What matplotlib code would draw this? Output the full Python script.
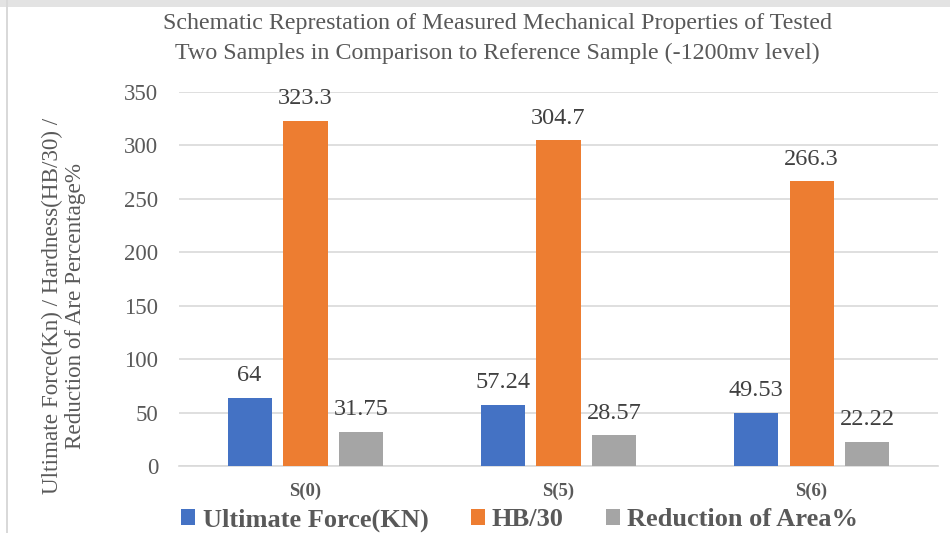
import matplotlib.pyplot as plt
import numpy as np
from matplotlib.patches import Rectangle

plt.rcParams['font.family'] = ['Liberation Serif', 'DejaVu Serif']

# Measured values per sample
samples = ['S(0)', 'S(5)', 'S(6)']
ultimate_force = [64, 57.24, 49.53]
hardness = [323.3, 304.7, 266.3]
reduction_area = [31.75, 28.57, 22.22]
series_names = ['Ultimate Force(KN)', 'HB/30', 'Reduction of Area%']
series_colors = ['#4472C4', '#ED7D31', '#A5A5A5']
y_ticks = [0, 50, 100, 150, 200, 250, 300, 350]

fig = plt.figure(figsize=(9.5, 5.33), dpi=100)
ax = fig.add_axes([0.1884, 0.1257, 0.799, 0.7017])

x = np.arange(len(samples))
bar_w = 0.174
step = 0.221
all_series = [ultimate_force, hardness, reduction_area]
for i, (vals, name, col) in enumerate(zip(all_series, series_names, series_colors)):
    pos = x + (i - 1) * step
    ax.bar(pos, vals, width=bar_w, color=col, label=name, zorder=3)
    for px, v in zip(pos, vals):
        ax.annotate(f'{v:g}', (px, v), xytext=(0, 8.5), textcoords='offset points',
                    ha='center', va='bottom', fontsize=17.5, color='#404040')

ax.set_xlim(-0.5, 2.5)
ax.set_ylim(0, 350)
ax.set_yticks(y_ticks)
ax.set_xticks(x)
ax.set_xticklabels(samples, fontweight='bold', fontsize=13.5, color='#595959')
ax.tick_params(axis='y', length=0, pad=15, labelsize=16.5, labelcolor='#595959')
ax.tick_params(axis='x', length=0, pad=12)
ax.grid(axis='y', color='#D9D9D9', linewidth=1.2, zorder=0)
for s in ['top', 'right', 'left']:
    ax.spines[s].set_visible(False)
ax.spines['bottom'].set_color('#D9D9D9')
ax.spines['bottom'].set_linewidth(1.2)

fig.text(0.524, 0.928, 'Schematic Represtation of Measured Mechanical Properties of Tested\n'
         'Two Samples in Comparison to Reference Sample (-1200mv level)',
         ha='center', va='center', fontsize=17.3, color='#595959', linespacing=1.55)

fig.text(0.067, 0.426, 'Ultimate Force(Kn) / Hardness(HB/30) /\nReduction of Are Percentage%',
         rotation=90, ha='center', va='center', fontsize=16.7, color='#595959',
         linespacing=1.1)

fig.legend(loc='center', bbox_to_anchor=(0.547, 0.024), ncol=3, frameon=False,
           prop={'weight': 'bold', 'size': 19}, labelcolor='#595959',
           handlelength=0.53, handleheight=0.53, handletextpad=0.27, columnspacing=1.6)

# light frame along the top and left edges
fig.patches.append(Rectangle((0, 1 - 7 / 533), 1, 7 / 533, transform=fig.transFigure,
                             color='#E3E3E3', linewidth=0))
fig.patches.append(Rectangle((6 / 950, 0), 2 / 950, 1, transform=fig.transFigure,
                             color='#D9D9D9', linewidth=0))

fig.savefig('out.png', dpi=100)
